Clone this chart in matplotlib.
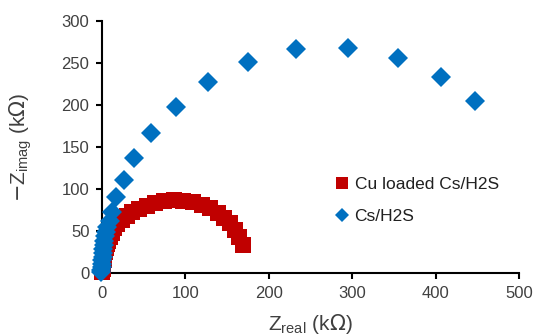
import matplotlib
matplotlib.use("Agg")
import matplotlib.pyplot as plt

plt.rcParams['font.family'] = ['Liberation Sans', 'DejaVu Sans']

red_x = [0.3, 0.6, 1.0, 1.5, 2.0, 2.8, 3.6, 4.6, 5.8, 7.2, 9.0, 11.5, 14.5, 18.5, 23.5, 29.5, 36.5, 44.5, 53.5, 63.5, 74.5, 86.0, 97.5, 109.0, 119.5, 129.5, 138.5, 146.5, 153.5, 159.5, 164.5, 168.5]
red_y = [1.5, 4.5, 8.0, 12.0, 16.0, 20.5, 25.0, 29.5, 34.0, 38.5, 43.0, 48.0, 53.0, 58.0, 63.0, 68.0, 72.5, 76.5, 80.0, 83.0, 85.5, 86.5, 86.0, 84.0, 81.0, 77.0, 72.0, 66.0, 59.0, 51.0, 42.5, 33.5]

blue_x = [-1.0, -0.6, -0.3, 0.0, 0.3, 0.6, 1.0, 1.5, 2.1, 2.8, 3.6, 4.8, 6.5, 9.0, 12.5, 17.0, 26.5, 38.5, 58.9, 89.0, 127.0, 175.5, 233.0, 294.5, 354.6, 406.0, 447.0]
blue_y = [1.0, 4.0, 7.5, 11.0, 15.0, 19.0, 23.5, 28.0, 33.0, 38.0, 43.5, 49.0, 55.0, 62.0, 72.5, 91.0, 111.0, 137.5, 167.0, 197.5, 227.0, 251.0, 266.5, 268.0, 256.0, 233.0, 204.5]

x_ticks = [0, 100, 200, 300, 400, 500]
y_ticks = [0, 50, 100, 150, 200, 250, 300]

red = '#C00000'
blue = '#0070C0'
tick_color = '#404040'

fig = plt.figure(figsize=(5.35, 3.35), dpi=100)
ax = fig.add_axes([102/535, 1 - 273/335, 417/535, 252/335])

ax.plot(red_x, red_y, linestyle='none', marker='s', markersize=12,
        color=red, markeredgewidth=0, label='Cu loaded Cs/H2S', zorder=3, clip_on=False)
ax.plot(blue_x, blue_y, linestyle='none', marker='D', markersize=10,
        color=blue, markeredgewidth=0, label='Cs/H2S', zorder=4, clip_on=False)

ax.set_xlim(0, 500)
ax.set_ylim(0, 300)
ax.set_xticks(x_ticks)
ax.set_yticks(y_ticks)
for s in ['top', 'right']:
    ax.spines[s].set_visible(False)
for s in ['left', 'bottom']:
    ax.spines[s].set_linewidth(1.5)
    ax.spines[s].set_color('black')
ax.tick_params(axis='both', direction='out', length=4, width=1.5,
               labelsize=12, labelcolor=tick_color, color='black', pad=5)

ax.set_xlabel(r'Z$_\mathregular{real}$ (k$\Omega$)', fontsize=15, color=tick_color, labelpad=8)
ax.set_ylabel(r'$-$Z$_\mathregular{imag}$ (k$\Omega$)', fontsize=15, color=tick_color, labelpad=20)

leg = ax.legend(loc='upper left', bbox_to_anchor=(0.535, 0.41), frameon=False,
                fontsize=12.5, labelspacing=1.0, handletextpad=0.1,
                handlelength=1.2, borderaxespad=0)
for t in leg.get_texts():
    t.set_color('#202020')
hs = leg.legend_handles
hs[0].set_markersize(9)
hs[1].set_markersize(7)

fig.savefig('out.png', dpi=100)
